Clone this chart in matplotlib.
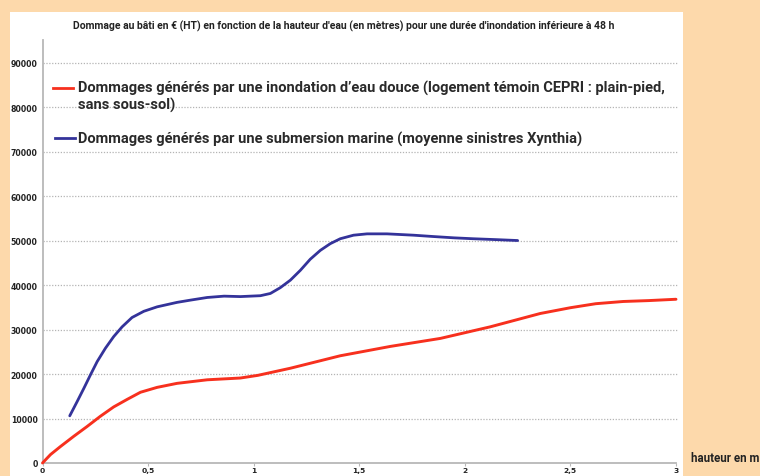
import matplotlib
matplotlib.use("Agg")
import matplotlib.pyplot as plt
from matplotlib.lines import Line2D
from matplotlib.patches import Rectangle

# ---------------- data ----------------
title = "Dommage au bâti en € (HT) en fonction de la hauteur d'eau (en mètres) pour une durée d'inondation inférieure à 48 h"
xlabel = "hauteur en m"
red_label = ["Dommages générés par une inondation d\u2019eau douce (logement témoin CEPRI : plain-pied,",
             "sans sous-sol)"]
blue_label = "Dommages générés par une submersion marine (moyenne sinistres Xynthia)"

red_x = [0, 0.038, 0.085, 0.148, 0.211, 0.274, 0.337, 0.401, 0.464, 0.543, 0.637, 0.78, 0.937,
         1.02, 1.174, 1.41, 1.647, 1.884, 2.12, 2.357, 2.5, 2.62, 2.75, 2.87, 3.0]
red_y = [0, 1900, 3700, 6000, 8200, 10500, 12600, 14300, 15900, 17000, 17900, 18700, 19100,
         19700, 21300, 24100, 26200, 28000, 30600, 33600, 34900, 35800, 36300, 36500, 36800]

blue_x = [0.129, 0.164, 0.196, 0.227, 0.259, 0.298, 0.337, 0.377, 0.424, 0.480, 0.543, 0.637,
          0.70, 0.78, 0.86, 0.937, 1.032, 1.079, 1.126, 1.174, 1.221, 1.268, 1.316, 1.363,
          1.41, 1.473, 1.537, 1.631, 1.757, 1.85, 1.95, 2.04, 2.15, 2.25]
blue_y = [10600, 13800, 16800, 19800, 22800, 25800, 28400, 30600, 32700, 34100, 35100, 36100,
          36600, 37200, 37500, 37400, 37600, 38100, 39400, 41100, 43300, 45800, 47800, 49300,
          50400, 51200, 51500, 51500, 51200, 50900, 50600, 50400, 50200, 50000]

y_ticks = [0, 10000, 20000, 30000, 40000, 50000, 60000, 70000, 80000, 90000]
x_ticks = [0, 0.5, 1, 1.5, 2, 2.5, 3]
x_ticklabels = ["0", "0,5", "1", "1,5", "2", "2,5", "3"]

# ---------------- style ----------------
W, H = 760, 477
PEACH = "#fdd9ab"
RED = "#f7301e"
BLUE = "#34339a"
TXT = "#222222"
NARROW = ["Liberation Sans Narrow", "Roboto", "DejaVu Sans"]
plt.rcParams["font.family"] = ["DejaVu Sans"]

fig = plt.figure(figsize=(W / 100, H / 100), dpi=100, facecolor=PEACH)

def fx(px):
    return px / W

def fy(py):
    return 1 - py / H

# white panel
fig.patches.append(Rectangle((fx(10), 0), fx(683) - fx(10), fy(13), transform=fig.transFigure,
                             facecolor="white", edgecolor="none", zorder=-5))

ax = fig.add_axes([fx(42.5), fy(464), fx(676) - fx(42.5), fy(41.3) - fy(464)])
ax.set_zorder(2)
ax.set_facecolor("none")
ax.set_xlim(0, 3)
ax.set_ylim(0, 95000)

for v in y_ticks[1:]:
    ax.plot([0, 3.01], [v, v], color="#b4b4b4", lw=0.9, ls=(0, (1.0, 1.3)), clip_on=False, zorder=1)

ax.plot(red_x, red_y, color=RED, lw=2.1, solid_capstyle="round", solid_joinstyle="round",
        zorder=3, clip_on=False)
ax.plot(blue_x, blue_y, color=BLUE, lw=2.0, solid_capstyle="round", solid_joinstyle="round",
        zorder=3)

for s in ["top", "right"]:
    ax.spines[s].set_visible(False)
for s in ["left", "bottom"]:
    ax.spines[s].set_color("#b8b8b8")
    ax.spines[s].set_linewidth(1.3)

ax.set_yticks(y_ticks)
ax.set_yticklabels([str(v) for v in y_ticks])
ax.set_xticks(x_ticks)
ax.set_xticklabels(x_ticklabels)
ax.tick_params(axis="y", length=0, pad=3.5, labelsize=5.6, labelcolor=TXT)
ax.tick_params(axis="x", length=2.0, width=0.8, color="#b8b8b8", pad=0.8, labelsize=5.4, labelcolor=TXT)
for lab in ax.get_xticklabels() + ax.get_yticklabels():
    lab.set_fontweight("bold")

# texts
t_title = fig.text(fx(73), fy(26), title, ha="left", va="center", fontsize=7, fontweight="bold",
                   color=TXT, family=NARROW)
t_r1 = fig.text(fx(77.5), fy(92.7), red_label[0], ha="left", va="baseline", fontsize=11,
                fontweight="bold", color="#2a2a2a", family=NARROW)
t_r2 = fig.text(fx(77.5), fy(109.3), red_label[1], ha="left", va="baseline", fontsize=11,
                fontweight="bold", color="#2a2a2a", family=NARROW)
t_b = fig.text(fx(77.5), fy(144), blue_label, ha="left", va="baseline", fontsize=11,
               fontweight="bold", color="#2a2a2a", family=NARROW)
t_x = fig.text(fx(691), fy(459), xlabel, ha="left", va="center", fontsize=8.5,
               fontweight="bold", color=TXT, family=NARROW)

fig.lines.append(Line2D([fx(53), fx(73)], [fy(89.3), fy(89.3)], transform=fig.transFigure,
                        color=RED, lw=2.0))
fig.lines.append(Line2D([fx(55), fx(74.5)], [fy(139.3), fy(139.3)], transform=fig.transFigure,
                        color=BLUE, lw=2.0))

# fit text widths to the reference
renderer = fig.canvas.get_renderer()
def fit(t, target):
    bb = t.get_window_extent(renderer)
    t.set_fontsize(t.get_fontsize() * target / bb.width)

fit(t_title, 543)
fit(t_r1, 589)
t_r2.set_fontsize(t_r1.get_fontsize())
t_b.set_fontsize(t_r1.get_fontsize())
fit(t_x, 68)

fig.savefig("out.png", dpi=100, facecolor=PEACH)
